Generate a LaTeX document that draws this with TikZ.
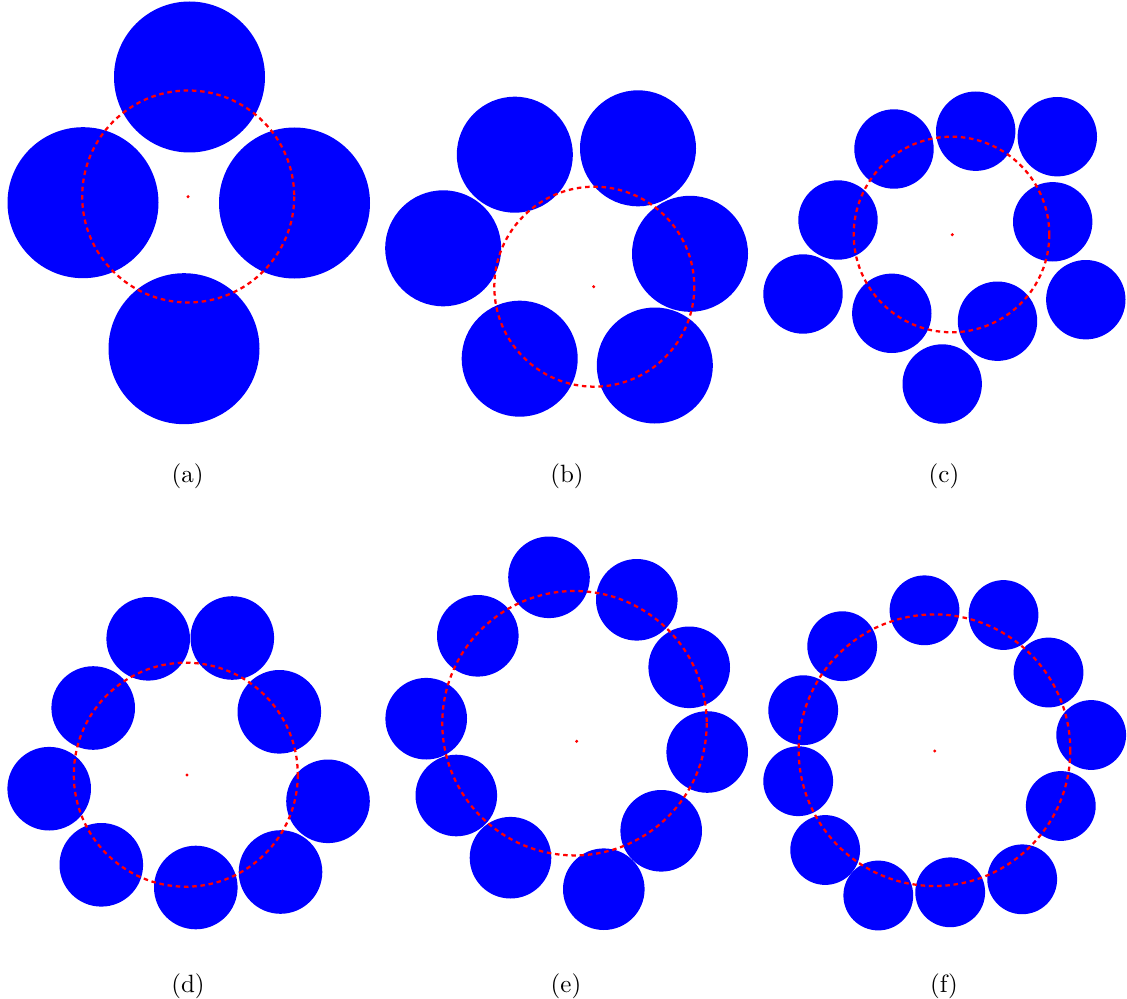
\documentclass[tikz,border=0pt]{standalone}
\begin{document}
\begin{tikzpicture}[x=0.4pt,y=-0.4pt,
  disc/.style={fill={rgb,255:red,0;green,0;blue,255}},
  orbit/.style={draw={rgb,255:red,255;green,0;blue,0},line width=0.9pt,dash pattern=on 1.8pt off 1.5pt},
  centre/.style={fill={rgb,255:red,255;green,0;blue,0}},
  caption/.style={anchor=base,inner sep=0pt,font=\fontsize{10}{12}\selectfont}]
\useasboundingbox (0,0) rectangle (1127,999);
% (a)
\foreach \x/\y in {189.5/77,83/202.7,294.5/203,184/348.7}
  \fill[disc] (\x,\y) circle (75.5);
\draw[orbit] (188.2,196.5) circle (106);
\fill[centre] (188,196.7) circle (1.7);
\node[caption] (la) at (187.5,482) {(a)};
% (b)
\foreach \x/\y in {514.8/154.7,638/148.3,443.2/248.3,690/253.8,519.7/358.7,654.8/365.5}
  \fill[disc] (\x,\y) circle (58);
\draw[orbit] (594.3,286.7) circle (100);
\fill[centre] (593.7,286.7) circle (1.7);
\node[caption] (lb) at (567,482) {(b)};
% (c)
\foreach \x/\y in {894/149,975.7/131.2,1057.3/136.7,838/220,1052.7/221.8,803/294,891.8/313.3,997.5/321.2,1085.8/299.7,942.2/384}
  \fill[disc] (\x,\y) circle (39.7);
\draw[orbit] (951.5,234.5) circle (97.8);
\fill[centre] (952.3,234.7) circle (1.7);
\node[caption] (lc) at (944,482) {(c)};
% (d)
\foreach \x/\y in {148.2/638.8,232.3/638,93.2/708,279.3/711.8,49.2/788.7,328/801.3,101.3/864.8,195.8/887.5,280.5/872}
  \fill[disc] (\x,\y) circle (41.8);
\draw[orbit] (185.8,774.7) circle (112);
\fill[centre] (187,775) circle (1.7);
\node[caption] (ld) at (188,992) {(d)};
% (e)
\foreach \x/\y in {549/577.3,636.8/599.8,477.8/635.8,689.2/667.3,426.2/718.7,707.2/752,456.3/795.5,661.2/830.8,510.5/857.7,603.8/889.2}
  \fill[disc] (\x,\y) circle (40.8);
\draw[orbit] (574.5,723.2) circle (132.2);
\fill[centre] (576.7,741.3) circle (1.7);
\node[caption] (le) at (566,992) {(e)};
% (f)
\foreach \x/\y in {924.5/610.3,1003.5/615,842.2/646.2,1048.5/672.5,803.2/710.2,1091.2/735,798.2/781.2,1060.8/806,825.2/850,878.3/895.5,950.2/892.3,1022.2/879.3}
  \fill[disc] (\x,\y) circle (34.9);
\draw[orbit] (934.5,750.2) circle (135.8);
\fill[centre] (934.7,751) circle (1.7);
\node[caption] (lf) at (944,992) {(f)};
\end{tikzpicture}
\end{document}
